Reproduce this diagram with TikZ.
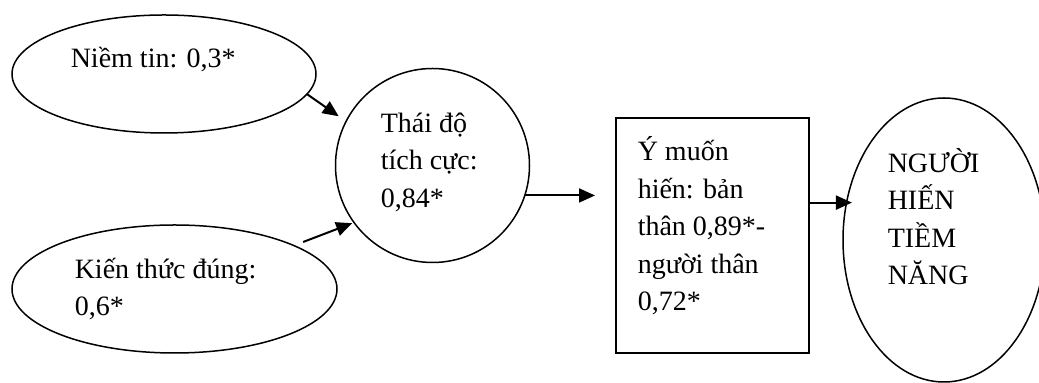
\documentclass[tikz,border=0pt]{standalone}
\usepackage{fontspec}
\setmainfont{Liberation Serif}
\usetikzlibrary{shapes.geometric,arrows.meta}

\begin{document}
\begin{tikzpicture}[x=0.5pt, y=-0.5pt, line width=0.75pt,
    every node/.style={font=\fontsize{14pt}{18.75pt}\selectfont},
    frame/.style={draw, inner sep=0pt, outer sep=0pt},
    txt/.style={anchor=base west, inner sep=0pt, align=left},
    arr/.style={-{Triangle[length=8pt,width=7pt]}, line width=1pt}]

  \useasboundingbox (0,0) rectangle (1039,383);

  % Shapes
  \node[frame, ellipse, minimum width=152pt, minimum height=59pt] (niemtin) at (164,74) {};
  \node[frame, ellipse, minimum width=162.5pt, minimum height=64pt] (kienthuc) at (174.5,289) {};
  \node[frame, circle, minimum size=97pt] (thaido) at (432.5,165.5) {};
  \node[frame, rectangle, minimum width=96.5pt, minimum height=117.5pt] (ynguyen) at (712.5,235.5) {};
  \node[frame, ellipse, minimum width=101pt, minimum height=142pt] (nguoihien) at (944,240) {};

  % Texts (placed at the baseline of the last line)
  \node[txt] (niemtinT) at (70,68) {Niềm tin: 0,3*};
  \node[txt] (kienthucT) at (74,316) {Kiến thức đúng:\\0,6*};
  \node[txt] (thaidoT) at (380,207.5) {Thái độ\\tích cực:\\0,84*};
  \node[txt] (ynguyenT) at (637,311) {Ý muốn\\hiến: bản\\thân 0,89*-\\người thân\\0,72*};
  \node[txt] (nguoihienT) at (887,285) {NGƯỜI\\HIẾN\\TIỀM\\NĂNG};

  % Arrows
  \draw[arr, shorten >=4.5pt] (niemtin.-8) -- (thaido.153);
  \draw[arr, shorten <=5pt, shorten >=1pt] (kienthuc.20) -- (thaido.216);
  \draw[arr, shorten >=10.5pt] (thaido.-18) -- (thaido.-18 -| ynguyen.west);
  \draw[arr] (ynguyen.east |- nguoihien.159) -- ([xshift=2.7pt]nguoihien.159);
\end{tikzpicture}
\end{document}
